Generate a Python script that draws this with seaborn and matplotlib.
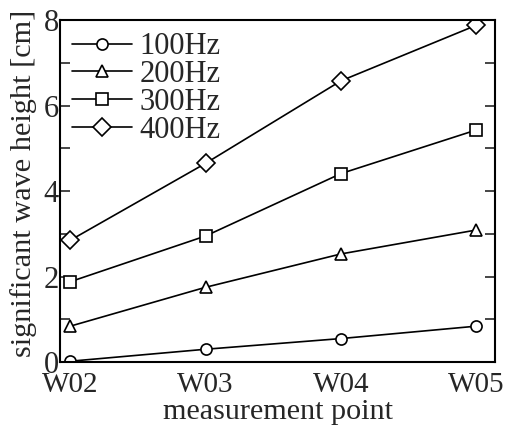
import numpy as np
import pandas as pd
import seaborn as sns
import matplotlib.pyplot as plt
from matplotlib.ticker import MultipleLocator

# values
points = ['W02', 'W03', 'W04', 'W05']
h100 = [0.02, 0.30, 0.55, 0.84]
h200 = [0.84, 1.75, 2.53, 3.09]
h300 = [1.88, 2.95, 4.41, 5.43]
h400 = [2.85, 4.65, 6.58, 7.88]
labels = ['100Hz', '200Hz', '300Hz', '400Hz']
markers = ['o', '^', 's', 'D']
msizes = [8, 8.5, 8, 9]

sns.set_style("ticks")
plt.rcParams['font.family'] = ['Liberation Serif', 'DejaVu Serif']

df = pd.DataFrame({'point': points * 4,
                   'x': list(range(len(points))) * 4,
                   'height': h100 + h200 + h300 + h400,
                   'freq': np.repeat(labels, len(points))})

fig = plt.figure(figsize=(5.18, 4.29), dpi=100)
ax = fig.add_axes([0.116, 0.156, 0.840, 0.797])

for lab, mk, ms in zip(labels, markers, msizes):
    sub = df[df['freq'] == lab]
    sns.lineplot(data=sub, x='x', y='height', ax=ax, color='black', lw=1.2,
                 marker=mk, markersize=ms, markerfacecolor='white',
                 markeredgecolor='black', markeredgewidth=1.2, label=lab)

ax.set_xlim(-0.075, 3.14)
ax.set_ylim(0, 8)
ax.set_xticks(range(len(points)))
ax.set_xticklabels(points, fontsize=21)
ax.yaxis.set_major_locator(MultipleLocator(2))
ax.yaxis.set_minor_locator(MultipleLocator(1))
ax.tick_params(axis='y', which='both', direction='in', left=True, right=True,
               labelsize=22, pad=1)
ax.tick_params(axis='y', which='major', length=7, width=1.2)
ax.tick_params(axis='y', which='minor', length=7, width=1.2)
ax.tick_params(axis='x', which='both', length=0, pad=7)
for s in ax.spines.values():
    s.set_linewidth(1.5)
    s.set_color('black')

ax.set_xlabel('measurement point', fontsize=21.7, labelpad=1)
ax.set_ylabel('significant wave height [cm]', fontsize=21.8)
ax.yaxis.set_label_coords(-0.054, 0.523)

ax.legend(loc='upper left', frameon=False, fontsize=22, handlelength=1.95,
          handletextpad=0.26, labelspacing=-0.04, borderaxespad=0.1,
          borderpad=0.3)

fig.savefig('out.png', dpi=100)
